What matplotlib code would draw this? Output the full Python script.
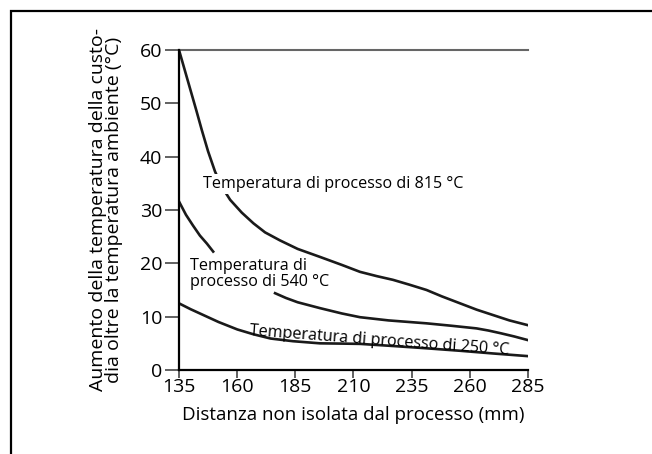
import matplotlib
matplotlib.use("Agg")
import matplotlib.pyplot as plt
from matplotlib.patches import Rectangle

plt.rcParams['font.family'] = ['Open Sans', 'DejaVu Sans']

# distanza (mm) e aumento di temperatura (°C)
x_815 = [135, 137.5, 140, 142.5, 144.8, 147.5, 150.5, 153.5, 157, 162, 167, 172, 178.4, 186, 195.6,
         205, 212.8, 220, 227, 234, 241.4, 248, 255.8, 263, 270, 277, 285]
y_815 = [60, 56.2, 52.4, 48.6, 45, 41, 37.2, 34.3, 31.9, 29.5, 27.5, 25.8, 24.3, 22.7, 21.2,
         19.7, 18.4, 17.6, 16.9, 16.0, 15.0, 13.8, 12.5, 11.3, 10.3, 9.3, 8.4]

x_540a = [135, 138, 141, 144, 147, 149.7]
y_540a = [31.6, 29.1, 27.1, 25.2, 23.7, 22.2]
x_540b = [176.3, 181, 186, 195.6, 205, 212.8, 225, 241.4, 252, 262.9, 268, 273.2, 279, 285]
y_540b = [14.4, 13.5, 12.7, 11.6, 10.6, 9.9, 9.3, 8.75, 8.3, 7.8, 7.4, 6.9, 6.3, 5.6]

x_250 = [135, 140, 145.5, 152, 160.1, 167, 174.4, 184, 195.6, 205, 212.8, 227, 241.4, 256, 270, 285]
y_250 = [12.5, 11.4, 10.3, 9.0, 7.6, 6.7, 5.9, 5.4, 5.0, 4.95, 4.9, 4.5, 4.07, 3.6, 3.1, 2.6]

xticks = [135, 160, 185, 210, 235, 260, 285]
yticks = [0, 10, 20, 30, 40, 50, 60]

fig = plt.figure(figsize=(6.52, 4.54), dpi=100)
ax = fig.add_axes([0.2745, 0.185, 0.5353, 0.705])

# cornice esterna
fig.patches.append(Rectangle((11 / 652, -0.05), 1.0, 1.05 - 11 / 454, transform=fig.transFigure,
                             fill=False, edgecolor='black', linewidth=1.6))

lw = 1.9
ax.plot(x_815, y_815, color='#1a1a1a', lw=lw, zorder=2)
ax.plot(x_540a, y_540a, color='#1a1a1a', lw=lw, zorder=2)
ax.plot(x_540b, y_540b, color='#1a1a1a', lw=lw, zorder=2)
ax.plot(x_250, y_250, color='#1a1a1a', lw=lw, zorder=2)
ax.plot([135, 285], [60, 60], color='#666666', lw=1.5, zorder=1, clip_on=False)

ax.text(145.3, 34.8, 'Temperatura di processo di 815 °C', fontsize=11.6, va='center', ha='left',
        bbox=dict(facecolor='white', edgecolor='none', pad=1.5), zorder=3)
ax.text(139.8, 18.0, 'Temperatura di\nprocesso di 540 °C', fontsize=11.6, va='center', ha='left',
        linespacing=0.95, zorder=3)
ax.text(165.5, 7.4, 'Temperatura di processo di 250 °C', fontsize=11.6, va='center', ha='left',
        rotation=-4.3, rotation_mode='anchor', zorder=3)

ax.set_xlim(135, 285)
ax.set_ylim(0, 60)
ax.set_xticks(xticks)
ax.set_yticks(yticks)
ax.tick_params(axis='y', length=10, width=1.3, color='#555555', labelsize=14, pad=2)
ax.tick_params(axis='x', length=6, width=1.3, color='#555555', labelsize=14, pad=0)

for s in ['top', 'right']:
    ax.spines[s].set_visible(False)
ax.spines['left'].set_linewidth(1.6)
ax.spines['bottom'].set_linewidth(1.6)

ax.set_xlabel('Distanza non isolata dal processo (mm)', fontsize=13.5, labelpad=7)
ax.set_ylabel('Aumento della temperatura della custo-\ndia oltre la temperatura ambiente (°C)',
              fontsize=14, labelpad=12, linespacing=0.9)

fig.savefig('out.png', dpi=100)
